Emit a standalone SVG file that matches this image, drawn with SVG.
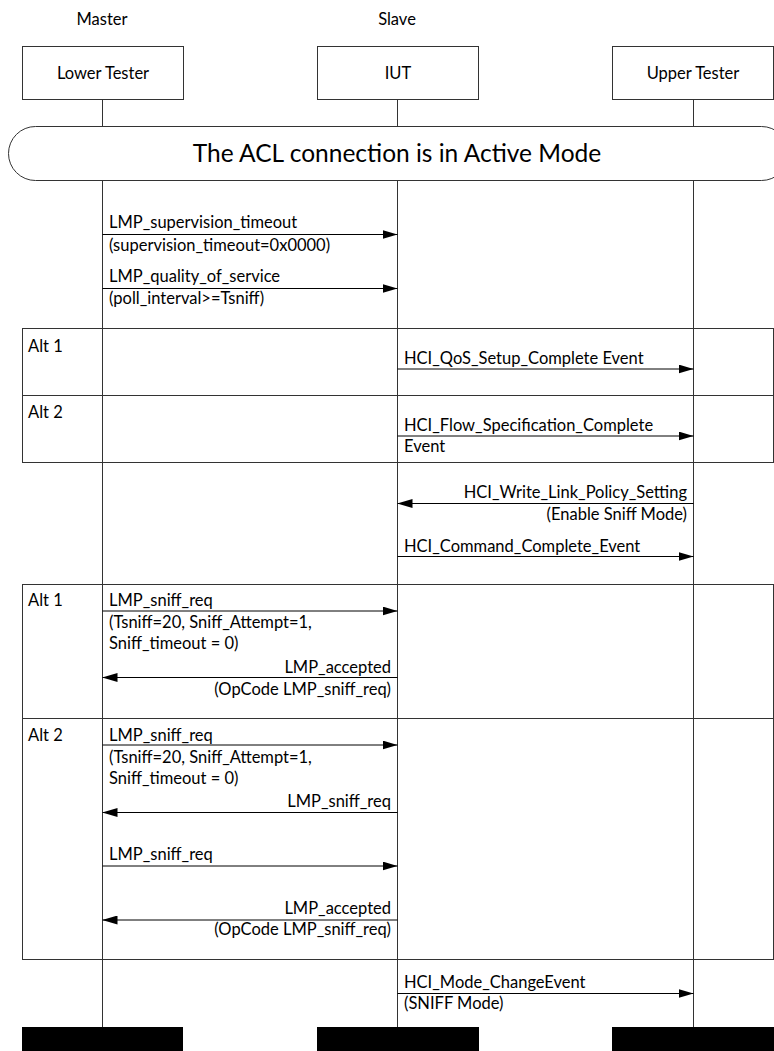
<svg xmlns="http://www.w3.org/2000/svg" width="774" height="1051" viewBox="0 0 774 1051">
  <style>
    text { font-family: Lato, "Liberation Sans", sans-serif; font-size: 16.5px; fill: #000; }
    .big { font-size: 24.5px; }
    .line { stroke: #333; stroke-width: 1; fill: none; }
    .frame { stroke: #333; stroke-width: 1; fill: none; }
    .box { stroke: #333; stroke-width: 1; fill: #fff; }
    .msg { stroke: #000; stroke-width: 1; fill: none; marker-end: url(#arrow); }
    .mid { text-anchor: middle; }
    .end { text-anchor: end; }
  </style>
  <defs>
    <marker id="arrow" markerUnits="userSpaceOnUse" markerWidth="15" markerHeight="9" refX="15" refY="4.5" orient="auto">
      <path d="M0,0 L15,4.5 L0,9 z" fill="#000"/>
    </marker>
  </defs>

  <!-- role captions -->
  <text x="102" y="25" class="mid">Master</text>
  <text x="397" y="25" class="mid">Slave</text>

  <!-- lifelines -->
  <g id="lifelines">
    <line class="line" x1="102.5" y1="100" x2="102.5" y2="127"/>
    <line class="line" x1="397.5" y1="100" x2="397.5" y2="127"/>
    <line class="line" x1="693.5" y1="100" x2="693.5" y2="127"/>
    <line class="line" x1="102.5" y1="181" x2="102.5" y2="1027"/>
    <line class="line" x1="397.5" y1="181" x2="397.5" y2="1027"/>
    <line class="line" x1="693.5" y1="181" x2="693.5" y2="1027"/>
  </g>

  <g id="lower-tester">
    <rect class="box" x="22.5" y="46.5" width="161" height="53"/>
    <text x="103" y="79" class="mid">Lower Tester</text>
    <rect x="22" y="1027" width="161" height="24" fill="#000"/>
  </g>
  <g id="iut">
    <rect class="box" x="317.5" y="46.5" width="161" height="53"/>
    <text x="398" y="79" class="mid">IUT</text>
    <rect x="317" y="1027" width="162" height="24" fill="#000"/>
  </g>
  <g id="upper-tester">
    <rect class="box" x="612.5" y="46.5" width="161" height="53"/>
    <text x="693" y="79" class="mid">Upper Tester</text>
    <rect x="612" y="1027" width="162" height="24" fill="#000"/>
  </g>

  <!-- condition banner -->
  <g id="active-mode">
    <rect class="box" x="8.5" y="126.5" width="780" height="54" rx="27" ry="27"/>
    <text x="397" y="162" class="mid big">The ACL connection is in Active Mode</text>
  </g>

  <!-- alternative frames -->
  <g id="alt-qos-1">
    <rect class="frame" x="22.5" y="328.5" width="751" height="67"/>
    <text x="28" y="352">Alt 1</text>
  </g>
  <g id="alt-qos-2">
    <rect class="frame" x="22.5" y="395.5" width="751" height="67"/>
    <text x="28" y="418">Alt 2</text>
  </g>
  <g id="alt-sniff-1">
    <rect class="frame" x="22.5" y="584.5" width="751" height="134"/>
    <text x="28" y="606">Alt 1</text>
  </g>
  <g id="alt-sniff-2">
    <rect class="frame" x="22.5" y="718.5" width="751" height="241"/>
    <text x="28" y="741">Alt 2</text>
  </g>

  <!-- messages -->
  <g id="connectors">
    <line class="msg" x1="102.5" y1="234.5" x2="397.5" y2="234.5"/>
    <text x="109" y="228">LMP_supervision_timeout</text>
    <text x="109" y="251">(supervision_timeout=0x0000)</text>

    <line class="msg" x1="102.5" y1="288.5" x2="397.5" y2="288.5"/>
    <text x="109" y="282">LMP_quality_of_service</text>
    <text x="109" y="304">(poll_interval&gt;=Tsniff)</text>

    <line class="msg" x1="397.5" y1="369" x2="693.5" y2="369"/>
    <text x="404" y="364">HCI_QoS_Setup_Complete Event</text>

    <line class="msg" x1="397.5" y1="436" x2="693.5" y2="436"/>
    <text x="404" y="431">HCI_Flow_Specification_Complete</text>
    <text x="404" y="452">Event</text>

    <line class="msg" x1="693.5" y1="503.5" x2="397.5" y2="503.5"/>
    <text x="687" y="498" class="end">HCI_Write_Link_Policy_Setting</text>
    <text x="687" y="520" class="end">(Enable Sniff Mode)</text>

    <line class="msg" x1="397.5" y1="556.5" x2="693.5" y2="556.5"/>
    <text x="404" y="552">HCI_Command_Complete_Event</text>

    <line class="msg" x1="102.5" y1="611" x2="397.5" y2="611"/>
    <text x="109" y="606">LMP_sniff_req</text>
    <text x="109" y="628">(Tsniff=20, Sniff_Attempt=1,</text>
    <text x="109" y="649">Sniff_timeout = 0)</text>

    <line class="msg" x1="397.5" y1="677.5" x2="102.5" y2="677.5"/>
    <text x="391" y="673" class="end">LMP_accepted</text>
    <text x="391" y="695" class="end">(OpCode LMP_sniff_req)</text>

    <line class="msg" x1="102.5" y1="745" x2="397.5" y2="745"/>
    <text x="109" y="741">LMP_sniff_req</text>
    <text x="109" y="763">(Tsniff=20, Sniff_Attempt=1,</text>
    <text x="109" y="784">Sniff_timeout = 0)</text>

    <line class="msg" x1="397.5" y1="812.5" x2="102.5" y2="812.5"/>
    <text x="391" y="807" class="end">LMP_sniff_req</text>

    <line class="msg" x1="102.5" y1="866" x2="397.5" y2="866"/>
    <text x="109" y="860">LMP_sniff_req</text>

    <line class="msg" x1="397.5" y1="920" x2="102.5" y2="920"/>
    <text x="391" y="914" class="end">LMP_accepted</text>
    <text x="391" y="935" class="end">(OpCode LMP_sniff_req)</text>

    <line class="msg" x1="397.5" y1="993.5" x2="693.5" y2="993.5"/>
    <text x="404" y="988">HCI_Mode_ChangeEvent</text>
    <text x="404" y="1009">(SNIFF Mode)</text>
  </g>
</svg>
